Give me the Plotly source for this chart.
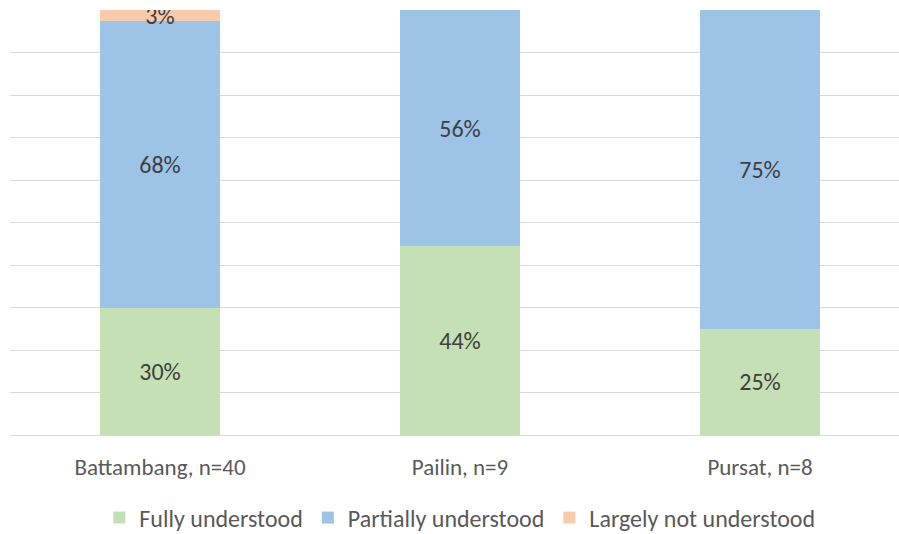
import plotly.graph_objects as go

# Share of respondents by province and level of understanding (percent)
provinces = ["Battambang, n=40", "Pailin, n=9", "Pursat, n=8"]
fully_understood = [30.0, 44.4, 25.0]
partially_understood = [67.5, 55.6, 75.0]
largely_not_understood = [2.5, None, None]

series = [
    ("Fully understood", fully_understood, "#C5E0B4"),
    ("Partially understood", partially_understood, "#9DC3E6"),
    ("Largely not understood", largely_not_understood, "#F8CBAD"),
]

FONT = "Carlito, Calibri, Lato, sans-serif"

fig = go.Figure()
for name, values, color in series:
    fig.add_trace(go.Bar(
        name=name,
        x=provinces,
        y=values,
        marker=dict(color=color, line=dict(width=0)),
        width=0.4,
        texttemplate="%{y:.0f}%",
        textposition="inside",
        insidetextanchor="middle",
        textangle=0,
        constraintext="none",
        textfont=dict(family=FONT, size=24, color="#404040"),
        hoverinfo="skip",
    ))

fig.update_layout(
    barmode="stack",
    width=899,
    height=534,
    margin=dict(l=10, r=0, t=10, b=99, autoexpand=False),
    paper_bgcolor="white",
    plot_bgcolor="white",
    uniformtext=dict(minsize=24, mode="show"),
    font=dict(family=FONT, size=23, color="#595959"),
    showlegend=True,
    legend=dict(
        orientation="h",
        x=0.506,
        xanchor="center",
        yref="container",
        y=0.03,
        yanchor="middle",
        font=dict(family=FONT, size=24, color="#595959"),
        traceorder="normal",
        itemclick=False,
        itemdoubleclick=False,
    ),
    xaxis=dict(
        range=[-0.5, 2.4633],
        showgrid=False,
        showline=False,
        zeroline=False,
        ticks="",
        ticklabelstandoff=16,
        tickfont=dict(family=FONT, size=23, color="#595959"),
        fixedrange=True,
    ),
    yaxis=dict(
        range=[0, 100],
        dtick=10,
        showgrid=True,
        gridcolor="#D9D9D9",
        gridwidth=1,
        zeroline=True,
        zerolinecolor="#D9D9D9",
        zerolinewidth=1,
        showticklabels=False,
        showline=False,
        fixedrange=True,
    ),
)

fig.write_html("out.html")
